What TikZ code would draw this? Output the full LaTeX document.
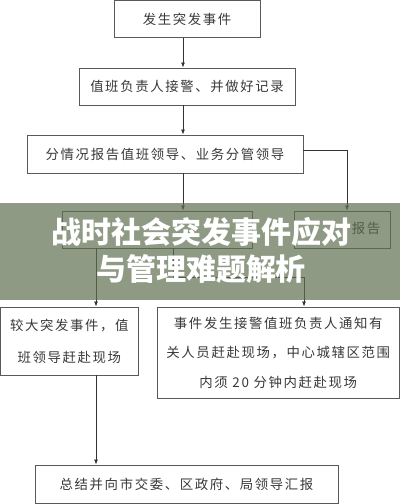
\documentclass[tikz,border=0pt]{standalone}
\usepackage{fontspec}
\setmainfont{Noto Sans CJK SC}[LetterSpace=12]
\newfontfamily\titlefont{Noto Sans CJK SC}
\usetikzlibrary{arrows.meta}
\definecolor{bandcol}{RGB}{95,111,81}
\begin{document}
\begin{tikzpicture}[x=1pt,y=-1pt,
  box/.style={draw=black!65,line width=0.9pt,inner sep=0pt,text=black!78,
    font=\fontsize{13.4}{29.5}\selectfont,align=center},
  arr/.style={draw=black!80,line width=0.8pt,-{Latex[length=5pt,width=4pt]}},
  band/.style={fill=bandcol,fill opacity=0.7},
  headline/.style={text=white,font=\titlefont\bfseries\fontsize{30}{30}\selectfont}]
  \useasboundingbox (0,0) rectangle (400,504);
	  \coordinate (spine) at (183,0);
	  \coordinate (lx) at (96,0);
	  \coordinate (rx) at (347,150);
	  \coordinate (mx) at (173,277);
	  \coordinate (nx) at (304,277);
	  % boxes
	  \node[box,minimum width=146pt,minimum height=37pt] (start) at (187,19) {发生突发事件};
	  \node[box,minimum width=216pt,minimum height=37pt] (alarm) at (187,86.5) {值班负责人接警、并做好记录};
	  \node[box,minimum width=276pt,minimum height=38pt] (split) at (165,154) {分情况报告值班领导、业务分管领导};
	  \node[box,minimum width=190pt,minimum height=37pt] (level) at (157,229.5) {};
	  \node[box,minimum width=96pt,minimum height=37pt] (report) at (342,229.5) {};
	  \node[text=black!78,font=\fontsize{13.4}{15}\selectfont] (reporttxt) at (366,228) {报告};
	  \node[box,minimum width=137.5pt,minimum height=68pt,font=\fontsize{13.4}{32}\selectfont] (major) at (69.25,341) {较大突发事件，值\\班领导赶赴现场};
	  \node[box,minimum width=242.5pt,minimum height=91pt] (notify) at (278.25,352.5) {事件发生接警值班负责人通知有\\关人员赶赴现场，中心城辖区范围\\内须 20 分钟内赶赴现场};
	  \node[box,minimum width=303pt,minimum height=38.5pt] (sum) at (186.5,484.25) {总结并向市交委、区政府、局领导汇报};
	  % connectors
	  \draw[arr] (start.south -| spine) -- (alarm.north -| spine);
	  \draw[arr] (alarm.south -| spine) -- (split.north -| spine);
	  \draw[arr] (split.south -| spine) -- (level.north -| spine);
	  \draw[arr] (split.east |- rx) -- (rx) -- (report.north -| rx);
	  \draw[arr] (level.south -| lx) -- (major.north -| lx);
	  \draw[arr] (level.south -| mx) -- (mx) -- (nx) -- (notify.north -| nx);
	  \draw[arr] (major.south -| lx) -- (sum.north -| lx);
	  % title band
	  \fill[band] (0,203) rectangle (400,300);
	  \node[headline] (title1) at (202,232) {战时社会突发事件应对};
	  \node[headline] (title2) at (201,269) {与管理难题解析};
	\end{tikzpicture}
\end{document}
